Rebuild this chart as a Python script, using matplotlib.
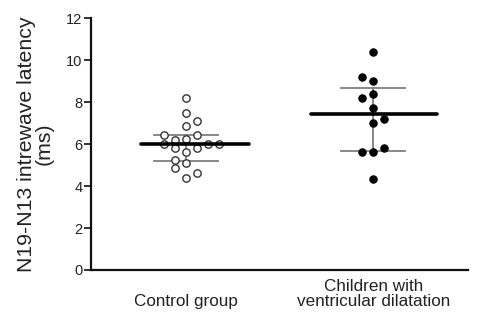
import numpy as np
import matplotlib
matplotlib.use("Agg")
import matplotlib.pyplot as plt

plt.rcParams['font.family'] = ['Liberation Sans', 'DejaVu Sans']

groups = ['Control group', 'Children with\nventricular dilatation']

# scatter values (ms) and their column index within the dot strip
control_vals = [8.2, 7.5, 7.1, 6.85, 6.45, 6.45, 6.2, 6.25, 6.0, 6.0, 6.0,
                5.8, 5.8, 5.6, 5.25, 5.1, 4.85, 4.6, 4.4]
control_cols = [0, 0, 1, 0, -2, 1, -1, 0, -2, 2, 3,
                -1, 1, 0, -1, 0, -1, 1, 0]
children_vals = [10.37, 9.2, 9.0, 8.4, 8.17, 7.7, 7.2, 7.0, 5.83, 5.6, 5.6, 4.32]
children_cols = [0, -1, 0, 0, -1, 0, 1, 0, 1, -1, 0, 0]

# median and interquartile range
medians = [6.0, 7.43]
q1 = [5.2, 5.67]
q3 = [6.45, 8.65]

fig = plt.figure(figsize=(4.81, 3.22), dpi=100)
ax = fig.add_axes([0.189, 0.1615, 0.784, 0.7825])

col_w = 0.059
xs = np.arange(1, len(groups) + 1)

ax.scatter(xs[0] + np.array(control_cols) * col_w, control_vals, s=28,
           facecolors='white', edgecolors='#333333', linewidths=1.0, zorder=3)
ax.scatter(xs[1] + np.array(children_cols) * col_w, children_vals, s=28,
           facecolors='black', edgecolors='black', linewidths=0.8, zorder=3)

med_half = [0.24, 0.33]
iqr_half = [0.17, 0.17]
for i, x in enumerate(xs):
    ax.plot([x - med_half[i], x + 0.34], [medians[i]] * 2, color='black', lw=2.6,
            solid_capstyle='round', zorder=4)
    ax.plot([x - iqr_half[i], x + iqr_half[i]], [q1[i]] * 2, color='#7f7f7f', lw=1.3, zorder=2)
    ax.plot([x - iqr_half[i], x + iqr_half[i]], [q3[i]] * 2, color='#7f7f7f', lw=1.3, zorder=2)
    ax.plot([x, x], [q1[i], q3[i]], color='#7f7f7f', lw=1.3, zorder=2)

ax.set_xlim(0.495, 2.505)
ax.set_ylim(0, 12)
ax.set_yticks(range(0, 13, 2))
ax.tick_params(axis='y', length=5, width=1.3, labelsize=10.5, pad=1, colors='#222222')
ax.tick_params(axis='x', length=0, labelsize=12.3, pad=28, colors='#222222')
ax.set_xticks(xs)
ax.set_xticklabels(groups, linespacing=0.95)
for lab in ax.get_xticklabels():
    lab.set_verticalalignment('bottom')

for s in ['top', 'right']:
    ax.spines[s].set_visible(False)
for s in ['left', 'bottom']:
    ax.spines[s].set_linewidth(1.6)
    ax.spines[s].set_color('#111111')

ax.set_ylabel('N19-N13 intrewave latency\n(ms)', fontsize=15.3, linespacing=0.92,
              color='#222222', labelpad=9)

fig.savefig('out.png', dpi=100)
